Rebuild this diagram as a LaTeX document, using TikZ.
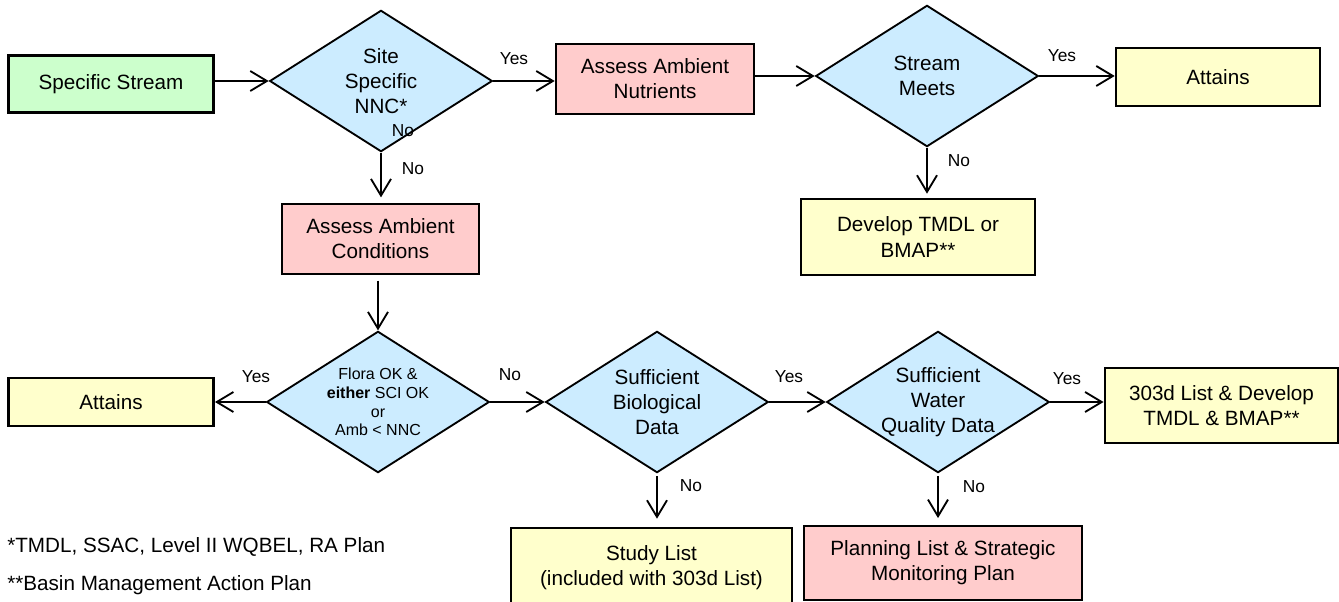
\documentclass[tikz,border=0pt]{standalone}
\usepackage{fontspec}
\setmainfont{Liberation Sans}
\usetikzlibrary{shapes.geometric,arrows.meta}

\definecolor{streamgreen}{HTML}{CCFFCC}
\definecolor{decisionblue}{HTML}{CCECFF}
\definecolor{assesspink}{HTML}{FFCCCC}
\definecolor{resultyellow}{HTML}{FFFFCC}

\tikzset{
  box/.style={draw=black, line width=1.9pt, align=center, inner sep=2pt,
    font=\fontsize{15.5}{18.8}\selectfont},
  decision/.style={diamond, draw=black, line width=1.4pt, fill=decisionblue,
    align=center, inner sep=-10pt, minimum width=167pt, minimum height=106pt,
    font=\fontsize{15.5}{19}\selectfont},
  flow/.style={line width=1.4pt, -{Straight Barb[length=12.5pt,width=15pt]}},
  lbl/.style={font=\fontsize{13}{15}\selectfont, inner sep=0pt},
  note/.style={font=\fontsize{15.5}{19}\selectfont, anchor=base west, inner sep=0pt}
}

\begin{document}
\begin{tikzpicture}[x=0.75pt,y=-0.75pt]
\useasboundingbox (0,0) rectangle (1339,602);

% Top row
\node[box, fill=streamgreen, minimum width=154pt, minimum height=43pt] (stream) at (111,84) {Specific Stream};
\node[decision] (sitennc) at (381,81) {Site\\Specific\\NNC*};
\node[box, fill=assesspink, minimum width=148.5pt, minimum height=52.5pt] (nutrients) at (655,79) {Assess Ambient\\Nutrients};
\node[decision] (meets) at (927,76) {Stream\\Meets};
\node[box, fill=resultyellow, minimum width=153pt, minimum height=43.5pt] (attainstop) at (1218,77) {Attains};
\node[box, fill=resultyellow, minimum width=175.5pt, minimum height=57pt] (tmdl) at (918,237) {Develop TMDL or\\BMAP**};

% Middle
\node[box, fill=assesspink, minimum width=147.75pt, minimum height=52.5pt] (conditions) at (380.5,239) {Assess Ambient\\Conditions};

% Bottom row
\node[decision, font=\fontsize{12}{14}\selectfont] (flora) at (378,402) {Flora OK \&\\\textbf{either} SCI OK\\or\\Amb < NNC};
\node[box, fill=resultyellow, minimum width=154pt, minimum height=36pt] (attainsleft) at (111,402) {Attains};
\node[decision] (biodata) at (657,402) {Sufficient\\Biological\\Data};
\node[decision] (wqdata) at (938,402) {Sufficient\\Water\\Quality Data};
\node[box, fill=resultyellow, minimum width=175pt, minimum height=56pt] (listdev) at (1221.5,405.5) {303d List \& Develop\\TMDL \& BMAP**};
\node[box, fill=resultyellow, minimum width=211pt, minimum height=60pt] (studylist) at (651.5,568) {Study List\\(included with 303d List)};
\node[box, fill=assesspink, minimum width=208.5pt, minimum height=55.5pt] (planlist) at (943,563) {Planning List \& Strategic\\Monitoring Plan};

% Connectors
\draw[flow] (stream.east |- sitennc.west) -- (sitennc.west);
\draw[flow] (sitennc.east) -- (sitennc.east -| nutrients.west);
\draw[flow] (nutrients.east |- meets.west) -- (meets.west);
\draw[flow] (meets.east) -- (meets.east -| attainstop.west);
\draw[flow, shorten >=3pt] (meets.south) -- (meets.south |- tmdl.north);
\draw[flow, shorten >=4pt] (sitennc.south) -- (sitennc.south |- conditions.north);
\draw[flow, shorten <=4pt] (flora.north |- conditions.south) -- (flora.north);
\draw[flow] (flora.west) -- (flora.west -| attainsleft.east);
\draw[flow] (flora.east) -- (biodata.west);
\draw[flow] (biodata.east) -- (wqdata.west);
\draw[flow] (wqdata.east) -- (wqdata.east -| listdev.west);
\draw[flow, shorten <=2pt, shorten >=6pt] (biodata.south) -- (biodata.south |- studylist.north);
\draw[flow, shorten <=2pt, shorten >=5pt] (wqdata.south) -- (wqdata.south |- planlist.north);

% Yes / No labels
\node[lbl] (yesnutr) at (514,59) {Yes};
\node[lbl] (noinside) at (403,131) {No};
\node[lbl] (nocond) at (413,169) {No};
\node[lbl] (yesmeets) at (1062,56) {Yes};
\node[lbl] (nomeets) at (959,161) {No};
\node[lbl] (yesflora) at (256,377) {Yes};
\node[lbl] (noflora) at (510,375) {No};
\node[lbl] (yesbio) at (789,377) {Yes};
\node[lbl] (yeswq) at (1067,379) {Yes};
\node[lbl] (nobio) at (691,486) {No};
\node[lbl] (nowq) at (974,487) {No};

% Footnotes
\node[note] (noteone) at (7,552) {*TMDL, SSAC, Level II WQBEL, RA Plan};
\node[note] (notetwo) at (7,590) {**Basin Management Action Plan};

\end{tikzpicture}
\end{document}
